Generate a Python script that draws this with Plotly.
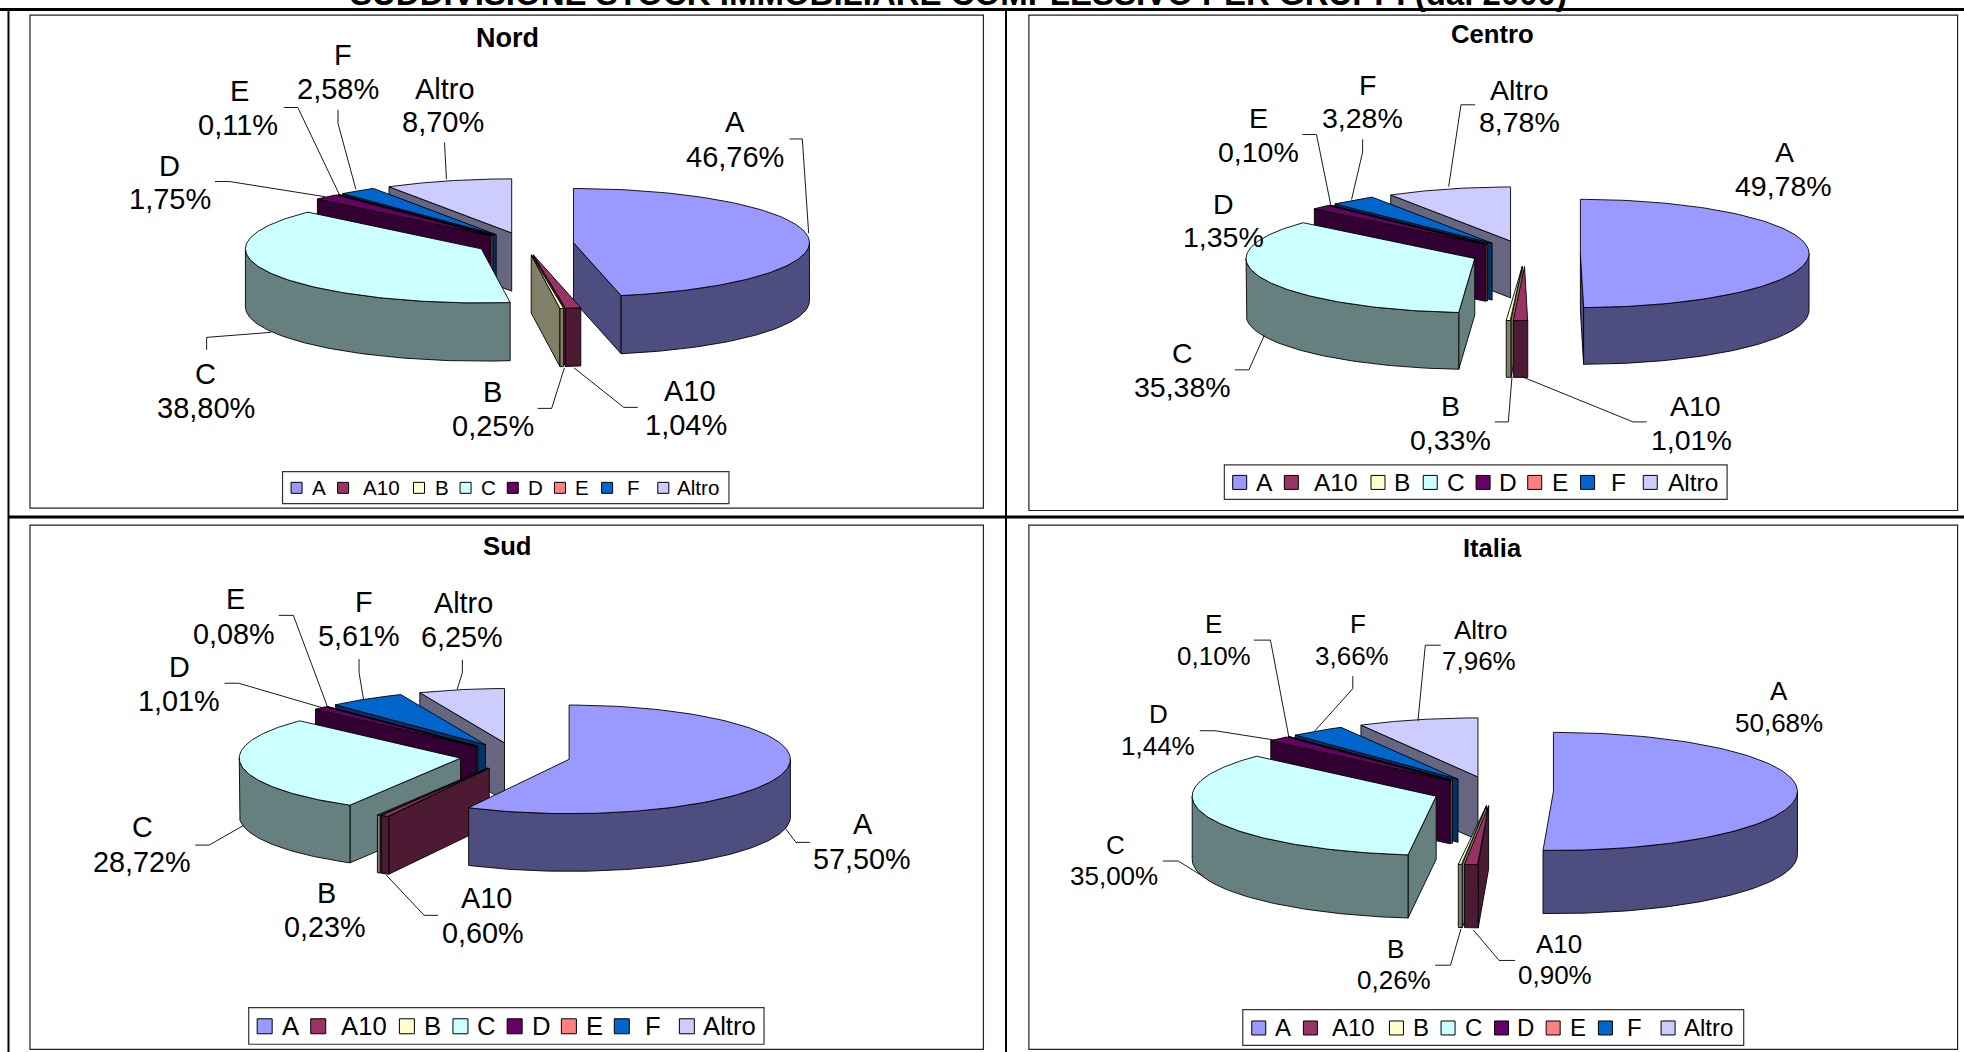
import numpy as np
import plotly.graph_objects as go

TITLE = "SUDDIVISIONE STOCK IMMOBILIARE COMPLESSIVO PER GRUPPI (dal 2000)"
CATEGORIES = ["A", "A10", "B", "C", "D", "E", "F", "Altro"]
PANELS = ["Nord", "Centro", "Sud", "Italia"]
NORD = [46.76, 1.04, 0.25, 38.80, 1.75, 0.11, 2.58, 8.70]
CENTRO = [49.78, 1.01, 0.33, 35.38, 1.35, 0.10, 3.28, 8.78]
SUD = [57.50, 0.60, 0.23, 28.72, 1.01, 0.08, 5.61, 6.25]
ITALIA = [50.68, 0.90, 0.26, 35.00, 1.44, 0.10, 3.66, 7.96]
VALUES = {"Nord": NORD, "Centro": CENTRO, "Sud": SUD, "Italia": ITALIA}

TOP = ["#9999FF", "#993366", "#FFFFCC", "#CCFFFF", "#660066", "#FF8080", "#0066CC", "#CCCCFF"]
SIDE = ["#4D4D80", "#4D1A33", "#808066", "#668080", "#330033", "#804040", "#003366", "#666680"]

# layout: everything below is stored in a per-panel working grid (gx, gy) mapped to page pixels
GEOM = {
    "Nord":   dict(sx=1.568, sy=2.958, ox=0, oy=0, c=(823, 721), rx=370, ry=160, e=0.207, h=172,
                   frame=(47, 45, 1542, 1503), title=(795, 112), tfs=27, lfs=29,
                   box=(443, 1395, 1143, 1490),
                   sq=[465, 538, 657, 730, 804, 878, 952, 1040], tx=[487, 567, 680, 752, 826, 900, 982, 1060],
                   ly=1443, ss=11, legfs=20.6),
    "Centro": dict(sx=1.627, sy=2.958, ox=1000, oy=0, c=(855, 750), rx=372, ry=160, e=0.24, h=168,
                   frame=(47, 45, 1558, 1510), title=(802, 102), tfs=25.7, lfs=28.5,
                   box=(365, 1375, 1183, 1477),
                   sq=[390, 474, 615, 700, 786, 870, 956, 1058], tx=[415, 510, 640, 725, 810, 897, 992, 1085],
                   ly=1427, ss=14, legfs=24.5),
    "Sud":    dict(sx=1.568, sy=2.947, ox=0, oy=520, c=(808, 696), rx=347, ry=160, e=0.25, h=170,
                   frame=(47, 15, 1542, 1560), title=(795, 76), tfs=25.7, lfs=28.8,
                   box=(390, 1437, 1198, 1545),
                   sq=[415, 499, 638, 722, 807, 892, 975, 1077], tx=[440, 533, 663, 747, 832, 917, 1010, 1101],
                   ly=1492, ss=15, legfs=25.7),
    "Italia": dict(sx=1.627, sy=2.947, ox=1000, oy=520, c=(802, 799), rx=397, ry=174, e=0.248, h=186,
                   frame=(47, 15, 1558, 1560), title=(802, 82), tfs=25.5, lfs=26,
                   box=(395, 1443, 1210, 1548),
                   sq=[421, 505, 645, 729, 816, 900, 985, 1087], tx=[445, 538, 670, 755, 840, 925, 1018, 1112],
                   ly=1497, ss=14, legfs=24),
}

# two-line label placement: (x line1, x line2, y line1, y line2)
LABEL_POS = {
    "Nord": [(1153, 1153, 362, 463), (1082, 1075, 1157, 1258), (773, 773, 1160, 1260), (323, 323, 1105, 1206),
             (266, 266, 490, 590), (375, 373, 268, 370), (538, 530, 163, 263), (697, 695, 262, 360)],
    "Centro": [(1276, 1274, 450, 550), (1132, 1125, 1200, 1302), (733, 733, 1200, 1302), (297, 297, 1045, 1145),
               (364, 364, 603, 702), (420, 420, 350, 450), (598, 590, 250, 350), (846, 846, 265, 362)],
    "Sud": [(1353, 1351, 897, 1000), (763, 757, 1115, 1217), (512, 510, 1098, 1200), (224, 222, 905, 1008),
            (281, 281, 432, 532), (370, 367, 232, 335), (570, 563, 243, 343), (726, 725, 245, 345)],
    "Italia": [(1268, 1267, 505, 598), (910, 903, 1250, 1342), (643, 641, 1263, 1357), (188, 186, 958, 1050),
               (258, 257, 573, 665), (348, 348, 307, 400), (582, 573, 307, 400), (782, 780, 323, 415)],
}
LEADERS = {
    "Nord": [[(1238, 411), (1258, 411), (1268, 690)], [(1000, 1205), (978, 1205), (900, 1088)],
             [(843, 1208), (865, 1208), (885, 1088)], [(324, 1035), (324, 998), (425, 983)],
             [(337, 537), (360, 537), (510, 582)], [(445, 318), (467, 318), (532, 575)],
             [(530, 325), (530, 365), (558, 560)], [(697, 422), (700, 530)]],
    "Centro": [[(1052, 1248), (1030, 1248), (850, 1115)], [(805, 1248), (827, 1248), (833, 1115)],
               [(382, 1094), (405, 1094), (430, 992)], [(492, 398), (515, 398), (538, 605)],
               [(590, 412), (590, 450), (572, 590)], [(773, 310), (750, 310), (730, 552)]],
    "Sud": [[(1270, 950), (1248, 950), (1232, 910)], [(687, 1165), (665, 1165), (605, 1045)],
            [(306, 958), (328, 958), (382, 900)], [(352, 481), (374, 481), (505, 553)],
            [(437, 281), (460, 281), (513, 548)], [(563, 410), (563, 450), (570, 528)],
            [(725, 412), (725, 450), (717, 498)]],
    "Italia": [[(838, 1298), (812, 1298), (770, 1208)], [(708, 1312), (733, 1312), (750, 1205)],
               [(265, 1005), (290, 1005), (330, 1050)], [(325, 621), (350, 621), (445, 648)],
               [(413, 354), (440, 354), (470, 640)], [(574, 460), (574, 497), (512, 622)],
               [(717, 369), (692, 369), (680, 592)]],
}

FONT = "Liberation Sans, Arial, sans-serif"
W, H = 1964, 1052
fig = go.Figure()
annotations, shapes = [], []


def poly(xs, ys, fill):
    fig.add_trace(go.Scatter(x=list(xs) + [xs[0]], y=list(ys) + [ys[0]], mode="lines", fill="toself",
                             fillcolor=fill, line=dict(color="#000000", width=0.9),
                             hoverinfo="skip", showlegend=False))


def text(x, y, s, size, bold=False, anchor="center"):
    annotations.append(dict(x=x, y=y, xref="x", yref="y", text=f"<b>{s}</b>" if bold else s, showarrow=False,
                            xanchor=anchor, yanchor="middle", font=dict(family=FONT, size=size, color="#000000"),
                            borderpad=0))


def rect(x0, y0, x1, y1, width=1.0, color="#000000", fill=None):
    shapes.append(dict(type="rect", x0=x0, y0=y0, x1=x1, y1=y1, xref="x", yref="y",
                       line=dict(color=color, width=width), fillcolor=fill, layer="below"))


def hline(x0, x1, y, width):
    shapes.append(dict(type="line", x0=x0, x1=x1, y0=y, y1=y, xref="x", yref="y", line=dict(color="#000000", width=width)))


def vline(x, y0, y1, width):
    shapes.append(dict(type="line", x0=x, x1=x, y0=y0, y1=y1, xref="x", yref="y", line=dict(color="#000000", width=width)))


# page table rules
hline(0, W, 9.5, 3)
hline(8, W, 517, 3)
vline(8.5, 8, H, 2)
vline(1006, 8, H, 2)

# the heading sits mostly above the top edge of the page, as in the source
annotations.append(dict(x=958 / W, y=(H + 7) / H, xref="paper", yref="paper", text=f"<b>{TITLE}</b>", showarrow=False,
                        xanchor="center", yanchor="middle", font=dict(family=FONT, size=33, color="#000000")))

for name in PANELS:
    g = GEOM[name]
    X = lambda v: g["ox"] + np.asarray(v, float) / g["sx"]
    Y = lambda v: g["oy"] + np.asarray(v, float) / g["sy"]
    fx0, fy0, fx1, fy1 = g["frame"]
    rect(float(X(fx0)), float(Y(fy0)), float(X(fx1)), float(Y(fy1)), width=1.2, color="#222222")
    text(float(X(g["title"][0])), float(Y(g["title"][1])), name, g["tfs"], bold=True)

    vals = np.array(VALUES[name], float)
    edges = np.concatenate([[0], np.cumsum(vals)]) / vals.sum() * 360
    cx, cy, rx, ry, e, h = g["c"][0], g["c"][1], g["rx"], g["ry"], g["e"], g["h"]
    mids = (edges[:-1] + edges[1:]) / 2
    order = sorted([i for i in range(8) if mids[i] >= 180], key=lambda i: -mids[i]) + \
        sorted([i for i in range(8) if mids[i] < 180], key=lambda i: mids[i])

    for i in order:
        a0, a1 = edges[i], edges[i + 1]
        mid = np.radians(mids[i])
        ax = cx + e * rx * np.sin(mid)
        ay = cy - e * ry * np.cos(mid)
        ex = lambda deg: ax + rx * np.sin(np.radians(deg))
        ey = lambda deg: ay - ry * np.cos(np.radians(deg))
        # radial walls that face the viewer
        if np.sin(np.radians(a0)) < -1e-6:
            poly(X([ax, ex(a0), ex(a0), ax]), Y([ay, ey(a0), ey(a0) + h, ay + h]), SIDE[i])
        if np.sin(np.radians(a1)) > 1e-6:
            poly(X([ax, ex(a1), ex(a1), ax]), Y([ay, ey(a1), ey(a1) + h, ay + h]), SIDE[i])
        # outer wall: only the front half of the rim
        w0, w1 = max(a0, 90), min(a1, 270)
        if w1 > w0:
            t = np.linspace(w0, w1, 80)
            poly(X(np.r_[ex(t), ex(t)[::-1]]), Y(np.r_[ey(t), ey(t)[::-1] + h]), SIDE[i])
        # top face
        t = np.linspace(a0, a1, 120)
        poly(X(np.r_[ax, ex(t)]), Y(np.r_[ay, ey(t)]), TOP[i])

    for path in LEADERS[name]:
        px, py = zip(*path)
        fig.add_trace(go.Scatter(x=X(px), y=Y(py), mode="lines", line=dict(color="#000000", width=0.9),
                                 hoverinfo="skip", showlegend=False))

    for cat, v, (x1, x2, y1, y2) in zip(CATEGORIES, VALUES[name], LABEL_POS[name]):
        text(float(X(x1)), float(Y(y1)), cat, g["lfs"])
        text(float(X(x2)), float(Y(y2)), f"{v:.2f}".replace(".", ",") + "%", g["lfs"])

    bx0, by0, bx1, by1 = g["box"]
    rect(float(X(bx0)), float(Y(by0)), float(X(bx1)), float(Y(by1)), width=1.2, color="#333333", fill="#FFFFFF")
    fig.add_trace(go.Scatter(x=X(g["sq"]), y=Y([g["ly"]] * 8), mode="markers",
                             marker=dict(symbol="square", size=g["ss"], color=TOP, line=dict(color="#000000", width=1)),
                             hoverinfo="skip", showlegend=False))
    for cat, tx in zip(CATEGORIES, g["tx"]):
        text(float(X(tx)), float(Y(g["ly"])), cat, g["legfs"], anchor="left")

fig.update_layout(
    width=W, height=H, margin=dict(l=0, r=0, t=0, b=0), paper_bgcolor="#FFFFFF", plot_bgcolor="#FFFFFF",
    xaxis=dict(range=[0, W], visible=False, fixedrange=True),
    yaxis=dict(range=[H, 0], visible=False, fixedrange=True),
    annotations=annotations, shapes=shapes, showlegend=False,
)
fig.write_html("out.html", config=dict(displayModeBar=False),
               post_script="document.body.style.margin='0';document.body.style.overflow='hidden';")
